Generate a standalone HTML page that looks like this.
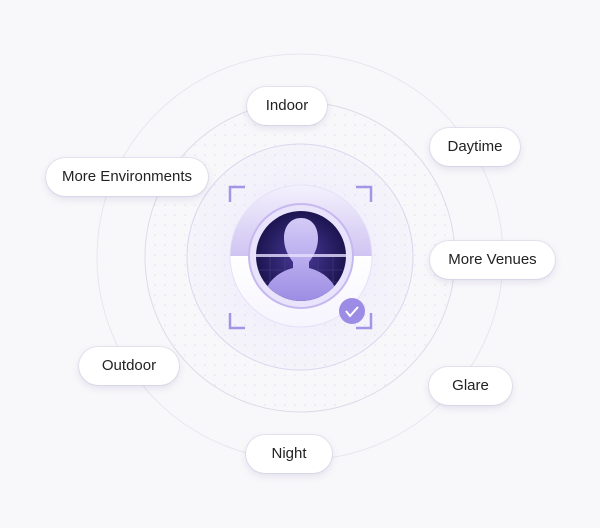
<!DOCTYPE html>
<html><head><style>
html,body{margin:0;padding:0;background:#f8f8fa;}
body{width:600px;height:528px;position:relative;overflow:hidden;font-family:"Liberation Sans",sans-serif;}
.p{position:absolute;height:38px;line-height:38px;background:#fff;border-radius:19px;text-align:center;font-size:15px;color:#222;box-shadow:0 3px 8px rgba(120,110,170,.18),0 0 0 1px rgba(220,218,235,.6);}
</style></head><body>
<svg width="600" height="528" style="position:absolute;left:0;top:0">
<defs>
<pattern id="dots" width="10" height="10" patternUnits="userSpaceOnUse"><circle cx="5" cy="5" r="0.8" fill="#e2def0"/></pattern>
<radialGradient id="inner" cx="50%" cy="50%" r="50%"><stop offset="0" stop-color="#e6e0f8"/><stop offset="1" stop-color="#f3f1fb"/></radialGradient>
<linearGradient id="ring" x1="0" y1="0" x2="0" y2="1"><stop offset="0" stop-color="#f4f1fd"/><stop offset="0.5" stop-color="#cfc4f2"/><stop offset="0.5" stop-color="#ffffff"/><stop offset="1" stop-color="#f6f4fd"/></linearGradient>
<radialGradient id="dark" cx="50%" cy="50%" r="50%"><stop offset="0" stop-color="#4a3a9a"/><stop offset="1" stop-color="#1c1550"/></radialGradient>
<linearGradient id="face" x1="0" y1="0" x2="0" y2="1"><stop offset="0" stop-color="#d4cbf7"/><stop offset="1" stop-color="#9b8ae3"/></linearGradient>
<clipPath id="cc"><circle cx="301" cy="256" r="45"/></clipPath>
</defs>
<circle cx="300" cy="257" r="203" fill="#f8f8fa" stroke="#e8e6ee" stroke-width="1"/>
<circle cx="300" cy="257" r="155" fill="url(#dots)" stroke="#dedbe8" stroke-width="1"/>
<circle cx="300" cy="257" r="113" fill="url(#inner)" opacity="0.6"/>
<circle cx="300" cy="257" r="113" fill="url(#dots)" stroke="#dcd6ee"/>
<g stroke="#8e7de0" stroke-width="2.5" fill="none" opacity="0.8">
<path d="M230 202V187H245"/><path d="M356 187H371V202"/><path d="M230 313V328H245"/><path d="M371 313V328H356"/>
</g>
<circle cx="301" cy="256" r="71" fill="url(#ring)" stroke="#e6e0f8"/>
<circle cx="301" cy="256" r="52" fill="#e9e4fb" stroke="#c6b9f0" stroke-width="2"/>
<circle cx="301" cy="256" r="45" fill="url(#dark)"/>
<g clip-path="url(#cc)">
<g stroke="#4a3f8a" stroke-width="0.8" opacity="0.7"><path d="M256 270H346M256 282H346M270 256V300M285 256V300M318 256V300M333 256V300"/></g>
<path d="M301 218C290 218 284 227 284 238C284 250 290 258 293 262V268C278 272 264 282 262 305H340C338 282 324 272 309 268V262C312 258 318 250 318 238C318 227 312 218 301 218Z" fill="url(#face)"/>
<rect x="250" y="254" width="102" height="3" fill="#e7e0ff" opacity="0.8"/>
</g>
<circle cx="352" cy="311" r="13" fill="#9c8ce6"/>
<path d="M346 311l4 5 8-9" stroke="#fff" stroke-width="2" fill="none"/>
</svg>
<div class="p" style="left:247px;top:87px;width:80px">Indoor</div>
<div class="p" style="left:430px;top:128px;width:90px">Daytime</div>
<div class="p" style="left:46px;top:158px;width:162px">More Environments</div>
<div class="p" style="left:430px;top:241px;width:125px">More Venues</div>
<div class="p" style="left:79px;top:347px;width:100px">Outdoor</div>
<div class="p" style="left:429px;top:367px;width:83px">Glare</div>
<div class="p" style="left:246px;top:435px;width:86px">Night</div>
</body></html>
